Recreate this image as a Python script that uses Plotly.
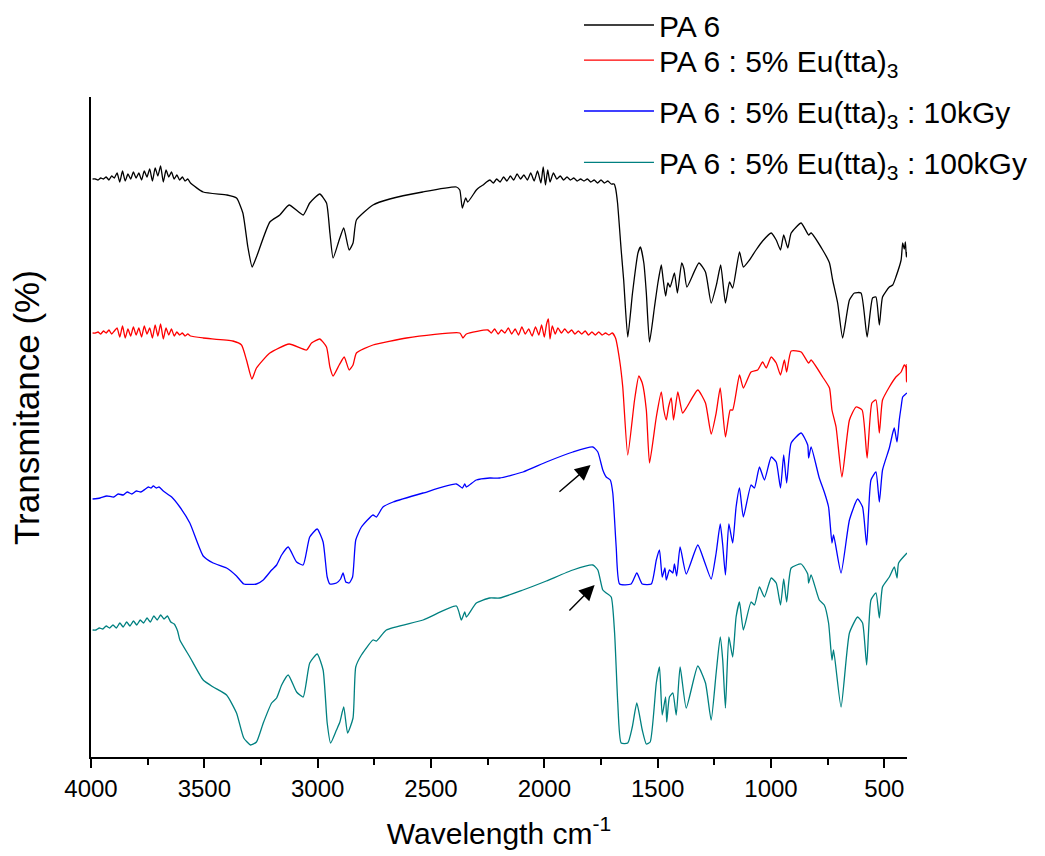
import plotly.graph_objects as go

# ---------------- data (wavenumber cm-1, transmittance in arbitrary offset units) ----------------
pa6_wn = [
    3993, 3981, 3969, 3957, 3945, 3933, 3921, 3909, 3897, 3885,
    3873, 3861, 3849, 3837, 3825, 3813, 3801, 3789, 3777, 3765,
    3753, 3741, 3729, 3717, 3705, 3693, 3681, 3669, 3657, 3645,
    3633, 3621, 3609, 3597, 3585, 3573, 3561,
    3505, 3400, 3358, 3330, 3308, 3289, 3270, 3211, 3167, 3126,
    3064, 3035, 2991, 2961, 2946, 2932, 2905, 2885, 2861, 2844,
    2829, 2756, 2682, 2537, 2388, 2373, 2362, 2347, 2338,
    2300, 2285, 2270, 2255, 2240, 2225, 2210, 2195, 2180, 2165,
    2150, 2135, 2120, 2105, 2090, 2075, 2060, 2045, 2030, 2015,
    2005, 1995, 1985, 1975, 1960, 1945, 1930, 1915, 1900, 1885,
    1870, 1855, 1840, 1825, 1810, 1795, 1780, 1765, 1750, 1735,
    1720, 1705,
    1692, 1686, 1677, 1661, 1650, 1632, 1611,
    1587, 1576, 1561, 1550, 1536, 1514, 1499, 1484, 1477, 1465,
    1455, 1445, 1426, 1413, 1394, 1384, 1371, 1318, 1289, 1264,
    1239, 1222, 1201, 1183, 1169, 1139, 1122, 1095, 1066, 1037,
    999, 977, 958, 944, 926, 911, 867, 834, 823, 772,
    742, 728, 706, 684, 654, 632, 603, 576, 552, 537,
    522, 508, 478, 463, 449, 426, 419, 412, 407, 403,
    400]
pa6_T = [
    578, 578, 577, 579, 578, 580, 577, 581, 579, 584,
    575, 586, 576, 583, 578, 585, 579, 584, 577, 586,
    580, 588, 576, 589, 581, 591, 575, 587, 580, 585,
    578, 582, 577, 580, 576, 578, 574,
    565, 562, 559, 544, 510, 490, 500, 535, 542, 552,
    542, 554, 563, 554, 524, 499, 517, 529, 507, 514,
    537, 552, 558, 565, 570, 567, 549, 559, 555,
    567, 570, 572, 575, 577, 574, 578, 575, 580, 576,
    581, 577, 583, 578, 582, 577, 584, 576, 586, 574,
    590, 572, 587, 575, 584, 578, 581, 577, 580, 577,
    579, 576, 578, 576, 578, 575, 577, 574, 577, 574,
    576, 573,
    573, 569, 554, 507, 477, 420, 464,
    504, 510, 494, 464, 415, 450, 474, 492, 480, 461,
    474, 470, 484, 464, 494, 488, 470, 494, 485, 454,
    474, 492, 454, 475, 469, 505, 490, 497, 507, 516,
    524, 517, 507, 522, 509, 524, 534, 522, 524, 507,
    494, 477, 454, 419, 457, 464, 464, 420, 459, 460,
    432, 460, 470, 472, 480, 497, 514, 508, 515, 500,
    505]

eu_wn = [
    3993, 3981, 3969, 3957, 3945, 3933, 3921, 3909, 3897, 3885,
    3873, 3861, 3849, 3837, 3825, 3813, 3801, 3789, 3777, 3765,
    3753, 3741, 3729, 3717, 3705, 3693, 3681, 3669, 3657, 3645,
    3633, 3621, 3609, 3597, 3585, 3573, 3561,
    3505, 3374, 3336, 3314, 3290, 3270, 3211, 3126, 3049, 3027,
    2991, 2961, 2946, 2932, 2905, 2883, 2861, 2844, 2829, 2756,
    2608, 2373, 2359, 2344,
    2249, 2234, 2219, 2204, 2189, 2174, 2159, 2144, 2129, 2114,
    2099, 2084, 2069, 2054, 2039, 2024, 2012, 2000, 1990, 1982,
    1975, 1965, 1952, 1940, 1925, 1910, 1895, 1880, 1865, 1850,
    1835, 1820, 1805, 1790, 1775, 1760, 1745, 1730, 1715, 1700,
    1686, 1668, 1654, 1632, 1602,
    1583, 1568, 1550, 1536, 1506, 1484, 1473, 1462, 1452, 1440,
    1430, 1411, 1390, 1371, 1323, 1289, 1264, 1242, 1224, 1201,
    1180, 1169, 1139, 1122, 1088, 1059, 1037, 1021, 999, 977,
    958, 941, 931, 911, 867, 834, 823, 772, 742, 731,
    713, 687, 654, 625, 598, 576, 555, 537, 522, 508,
    478, 449, 426, 412, 405, 402, 400]
eu_T = [
    424, 424, 425, 423, 426, 424, 427, 423, 426, 429,
    420, 431, 419, 428, 421, 430, 422, 429, 420, 431,
    423, 429, 419, 432, 421, 433, 418, 429, 422, 428,
    421, 425, 422, 424, 421, 423, 421,
    419, 416, 412, 397, 378, 389, 404, 413, 407, 414,
    418, 410, 390, 381, 392, 400, 387, 392, 404, 412,
    419, 424, 419, 423,
    427, 424, 428, 423, 427, 424, 429, 423, 428, 422,
    430, 423, 428, 421, 430, 422, 432, 420, 433, 438,
    418, 431, 423, 429, 424, 428, 424, 427, 423, 426,
    423, 426, 422, 425, 422, 425, 422, 424, 422, 424,
    419, 397, 370, 302, 357,
    381, 374, 347, 294, 340, 365, 347, 337, 350, 359,
    337, 365, 344, 350, 367, 354, 323, 344, 369, 320,
    347, 347, 382, 369, 385, 387, 395, 389, 400, 394,
    382, 397, 385, 406, 405, 394, 397, 380, 369, 347,
    330, 280, 337, 350, 347, 299, 354, 357, 324, 357,
    370, 380, 385, 392, 390, 375, 393]

k10_wn = [
    3993, 3960, 3930, 3900, 3880, 3858, 3840, 3820, 3800, 3780,
    3760, 3747, 3735, 3725, 3712, 3700, 3681,
    3644, 3608, 3564, 3505, 3461, 3402, 3358, 3326, 3270, 3240,
    3203, 3181, 3159, 3130, 3093, 3064, 3035, 3002, 2976, 2958,
    2946, 2917, 2899, 2888, 2876, 2861, 2846, 2832, 2807, 2756,
    2741, 2712, 2667, 2535, 2388, 2362, 2351, 2344, 2300, 2241,
    2197, 2094, 1991, 1874, 1786, 1764, 1742, 1727, 1709, 1698,
    1683, 1668, 1617, 1592, 1568, 1528, 1506, 1492, 1480, 1468,
    1462, 1448, 1433, 1426, 1416, 1401, 1374, 1323, 1293, 1264,
    1242, 1224, 1213, 1201, 1186, 1169, 1154, 1139, 1122, 1088,
    1073, 1051, 1029, 999, 977, 958, 944, 931, 911, 867,
    838, 834, 823, 787, 765, 746, 731, 724, 691, 654,
    618, 596, 578, 559, 537, 522, 508, 478, 463, 456,
    444, 434, 426, 419, 410, 400]
k10_T = [
    258, 259, 261, 260, 263, 262, 265, 263, 266, 265,
    268, 270, 269, 271, 269, 270, 266,
    260, 250, 234, 201, 194, 189, 181, 173, 173, 177,
    187, 192, 202, 210, 195, 192, 220, 228, 215, 180,
    173, 174, 178, 184, 175, 174, 180, 217, 230, 242,
    240, 250, 255, 264, 273, 269, 273, 270, 277, 279,
    279, 285, 295, 305, 310, 305, 287, 280, 277, 264,
    210, 173, 173, 184, 173, 173, 197, 207, 180, 189,
    177, 187, 184, 193, 181, 210, 183, 212, 195, 178,
    204, 233, 212, 182, 233, 214, 250, 269, 240, 272,
    269, 290, 277, 300, 295, 269, 302, 274, 314, 324,
    312, 299, 310, 279, 265, 250, 214, 222, 184, 237,
    258, 250, 212, 277, 285, 255, 287, 309, 324, 329,
    315, 337, 350, 360, 362, 364]

k100_wn = [
    3993, 3978, 3963, 3948, 3933, 3918, 3903, 3888, 3873, 3858,
    3843, 3828, 3813, 3798, 3783, 3768, 3753, 3738, 3723, 3708,
    3693, 3678, 3663, 3648, 3633, 3618, 3608,
    3564, 3505, 3461, 3402, 3358, 3326, 3296, 3270, 3240, 3203,
    3181, 3159, 3130, 3093, 3064, 3035, 3002, 2976, 2958, 2943,
    2917, 2902, 2885, 2868, 2844, 2832, 2807, 2756, 2741, 2697,
    2535, 2388, 2366, 2351, 2344, 2300, 2241, 2197, 2094, 1991,
    1874, 1786, 1764, 1742, 1727, 1705, 1690, 1676, 1661, 1632,
    1612, 1592, 1568, 1550, 1533, 1506, 1492, 1480, 1465, 1460,
    1448, 1433, 1418, 1401, 1374, 1323, 1289, 1264, 1242, 1224,
    1213, 1201, 1186, 1169, 1154, 1139, 1122, 1088, 1073, 1051,
    1029, 999, 977, 958, 944, 931, 911, 867, 838, 834,
    823, 787, 765, 746, 731, 724, 691, 654, 618, 596,
    578, 559, 537, 522, 508, 478, 456, 444, 437, 400]
k100_T = [
    127, 127, 129, 128, 131, 129, 132, 129, 134, 130,
    135, 131, 136, 132, 137, 134, 139, 135, 141, 137,
    142, 138, 141, 135, 133, 126, 117,
    100, 77, 70, 62, 44, 19, 12, 15, 34, 54,
    59, 72, 82, 65, 60, 94, 103, 87, 34, 14,
    27, 35, 50, 24, 39, 90, 102, 117, 116, 127,
    137, 151, 137, 145, 140, 154, 159, 159, 167, 176,
    187, 192, 187, 167, 164, 160, 124, 54, 14, 14,
    30, 54, 27, 13, 15, 74, 90, 42, 60, 35,
    60, 64, 42, 90, 49, 91, 74, 37, 84, 120,
    97, 49, 120, 100, 140, 155, 127, 155, 152, 170,
    160, 179, 174, 152, 178, 155, 189, 193, 183, 174,
    182, 157, 152, 134, 97, 107, 50, 124, 140, 134,
    92, 157, 164, 139, 170, 180, 190, 179, 194, 204]

series_names = [
    "PA 6",
    "PA 6 : 5% Eu(tta)<sub>3</sub>",
    "PA 6 : 5% Eu(tta)<sub>3</sub> : 10kGy",
    "PA 6 : 5% Eu(tta)<sub>3</sub> : 100kGy",
]
series_colors = ["#000000", "#FF0000", "#0000FF", "#008080"]

x_tickvals = [4000, 3500, 3000, 2500, 2000, 1500, 1000, 500]
x_minor_tickvals = [3750, 3250, 2750, 2250, 1750, 1250, 750]

# arrows marking the shoulder near 1760 cm-1 (head, tail)
arrow_heads = [(1796, 292), (1778, 172)]
arrow_tails = [(1940, 264), (1896, 145)]

# ---------------- figure ----------------
FONT = "Liberation Sans, Arial, sans-serif"
legend_ids = ["legend", "legend2", "legend3", "legend4"]
legend_y = [1.1091, 1.0560, 0.9788, 0.9010]   # paper y of each legend row

fig = go.Figure()
for (xs, ys), name, col, lid in zip(
        [(pa6_wn, pa6_T), (eu_wn, eu_T), (k10_wn, k10_T), (k100_wn, k100_T)],
        series_names, series_colors, legend_ids):
    assert len(xs) == len(ys), (name, len(xs), len(ys))
    fig.add_trace(go.Scatter(x=xs, y=ys, mode="lines", name=name, legend=lid,
                             line=dict(color=col, width=1.3,
                                       shape="spline", smoothing=0.5)))

for (hx, hy), (tx, ty) in zip(arrow_heads, arrow_tails):
    fig.add_annotation(x=hx, y=hy, ax=tx, ay=ty, xref="x", yref="y",
                       axref="x", ayref="y", text="", showarrow=True,
                       arrowhead=2, arrowsize=2.2, arrowwidth=1.4,
                       arrowcolor="black", standoff=0)

legend_common = dict(x=0.598, xanchor="left", yanchor="middle",
                     font=dict(size=30, family=FONT, color="black"),
                     bgcolor="rgba(0,0,0,0)", itemwidth=70)
layout_legends = {lid: dict(legend_common, y=ly) for lid, ly in zip(legend_ids, legend_y)}

fig.update_layout(
    width=1045, height=856,
    margin=dict(l=91, r=138, t=97, b=99, autoexpand=False),
    paper_bgcolor="white", plot_bgcolor="white",
    font=dict(family=FONT, color="black"),
    showlegend=True,
    **layout_legends,
)
fig.update_xaxes(
    range=[4000, 400], autorange=False,
    showline=True, linecolor="black", linewidth=2,
    showgrid=False, zeroline=False,
    ticks="outside", ticklen=9, tickwidth=2, tickcolor="black",
    tickvals=x_tickvals, ticktext=[str(v) for v in x_tickvals],
    tickfont=dict(size=24, family=FONT),
    minor=dict(tickvals=x_minor_tickvals, ticks="outside", ticklen=6,
               tickwidth=2, tickcolor="black", showgrid=False),
    title=dict(text="Wavelength cm<sup>-1</sup>", font=dict(size=30, family=FONT),
               standoff=22),
)
fig.update_yaxes(
    range=[0, 660], autorange=False,
    showline=True, linecolor="black", linewidth=2,
    showgrid=False, zeroline=False, ticks="", showticklabels=False,
    title=dict(text="&nbsp;&nbsp;&nbsp;&nbsp;Transmitance (%)",
               font=dict(size=35, family=FONT), standoff=39),
)

fig.write_html("out.html", config={"displayModeBar": False},
               post_script="document.body.style.margin='0';")
